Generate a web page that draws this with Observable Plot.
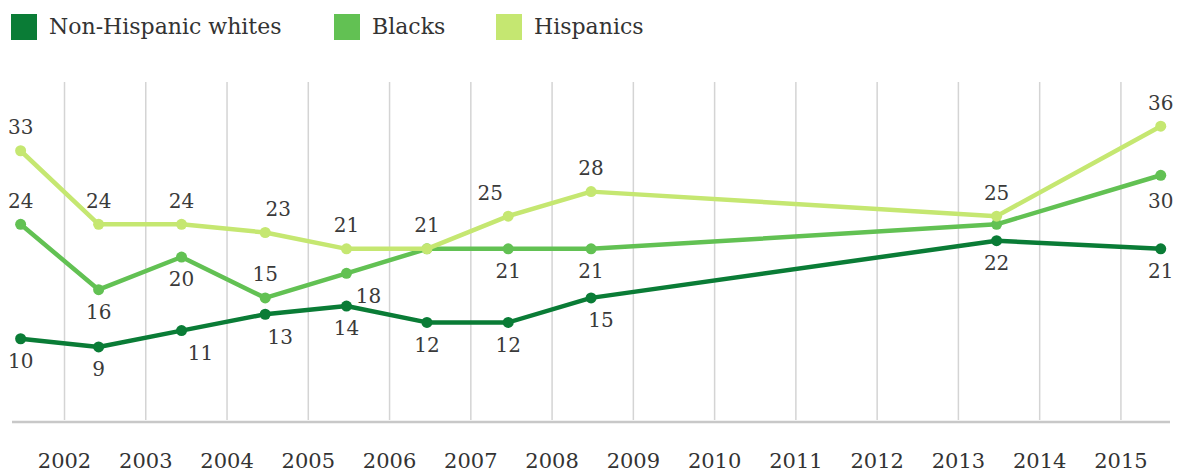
<!DOCTYPE html>
<html>
<head>
<meta charset="utf-8">
<script src="https://cdn.jsdelivr.net/npm/d3@7"></script>
<script src="https://cdn.jsdelivr.net/npm/@observablehq/plot@0.6"></script>
<style>
  html, body { margin: 0; padding: 0; background: #fff; }
  #wrap { width: 1177px; height: 472px; position: relative; font-family: "DejaVu Serif", serif; color: #333; }
  #legend { position: relative; height: 50px; }
  .item { position: absolute; top: 14px; display: flex; align-items: center; font-size: 22px; line-height: 26px; }
  .sw { width: 26px; height: 26px; margin-right: 12px; }
  svg { display: block; }
</style>
</head>
<body>
<div id="wrap">
  <div id="legend"></div>
  <div id="chart"></div>
</div>
<script>
// ---- data ----
const seriesNames = ["Non-Hispanic whites", "Blacks", "Hispanics"];
const surveyDates = [2001.46, 2002.42, 2003.44, 2004.47, 2005.47, 2006.46, 2007.46, 2008.48, 2013.47, 2015.49];
const whites    = [10, 9, 11, 13, 14, 12, 12, 15, 22, 21];
const blacks    = [24, 16, 20, 15, 18, 21, 21, 21, 24, 30];
const hispanics = [33, 24, 24, 23, 21, 21, 25, 28, 25, 36];
const axisYears = [2002, 2003, 2004, 2005, 2006, 2007, 2008, 2009, 2010, 2011, 2012, 2013, 2014, 2015];

// ---- styling ----
const colors = {"Non-Hispanic whites": "#0a7c36", "Blacks": "#62c153", "Hispanics": "#c5e771"};
const legendLeft = [11, 334, 496];
// label placement: t = above, b = below, n = none; plus horizontal nudges
const placement = {
  "Non-Hispanic whites": {pos: ["b","b","b","b","b","b","b","b","b","b"], dx: [0,0,19,15,0,0,0,10,0,0]},
  "Blacks":              {pos: ["t","b","b","t","b","n","b","b","n","b"], dx: [0,0,0,0,22,0,0,0,0,0], dyb: [0,0,0,0,0,0,0,0,0,3]},
  "Hispanics":           {pos: ["t","t","t","t","t","t","t","t","t","t"], dx: [0,0,0,13,0,0,-18,0,0,0]}
};

const valuesBySeries = {"Non-Hispanic whites": whites, "Blacks": blacks, "Hispanics": hispanics};
const rows = [];
for (const s of seriesNames) {
  valuesBySeries[s].forEach((v, i) => {
    const p = placement[s];
    rows.push({series: s, date: surveyDates[i], value: v, pos: p.pos[i], dx: p.dx[i], dyx: (p.dyb ? p.dyb[i] : 0)});
  });
}

// legend
const legend = document.getElementById("legend");
seriesNames.forEach((s, i) => {
  const it = document.createElement("div");
  it.className = "item";
  it.style.left = legendLeft[i] + "px";
  it.innerHTML = `<span class="sw" style="background:${colors[s]}"></span><span>${s}</span>`;
  legend.appendChild(it);
});

// label marks grouped by offsets
const labelMarks = [];
const groups = d3.groups(rows.filter(d => d.pos !== "n"), d => `${d.pos}|${d.dx}|${d.dyx}`);
for (const [key, data] of groups) {
  const [pos, dx, dyx] = key.split("|");
  labelMarks.push(Plot.text(data, {
    x: "date", y: "value", text: d => String(d.value),
    dx: +dx, dy: (pos === "t" ? -23 : 23) + (+dyx),
    fill: "#3a3a3a", fontSize: 20
  }));
}

const drawOrder = ["Blacks", "Hispanics", "Non-Hispanic whites"];
const lineMarks = [];
for (const s of drawOrder) {
  const data = rows.filter(d => d.series === s);
  lineMarks.push(Plot.line(data, {x: "date", y: "value", stroke: colors[s], strokeWidth: 4.5}));
  lineMarks.push(Plot.dot(data, {x: "date", y: "value", fill: colors[s], r: 5.5}));
}

const chart = Plot.plot({
  width: 1177,
  height: 422,
  marginTop: 32,
  marginBottom: 52,
  marginLeft: 12,
  marginRight: 7,
  x: {domain: [2001.36, 2015.61]},
  y: {domain: [0, 41.35], axis: null},
  style: {fontFamily: "DejaVu Serif", background: "white", color: "#333", overflow: "visible"},
  marks: [
    Plot.gridX(axisYears, {stroke: "#d4d4d4", strokeOpacity: 1, strokeWidth: 1.5}),
    Plot.ruleY([0], {stroke: "#c8c8c8", strokeWidth: 2.5, dy: 1.5}),
    Plot.axisX(axisYears, {tickSize: 0, tickPadding: 33, tickFormat: d => String(d), fontSize: 21, fill: "#333", label: null}),
    ...lineMarks,
    ...labelMarks
  ]
});
document.getElementById("chart").appendChild(chart);
</script>
</body>
</html>
